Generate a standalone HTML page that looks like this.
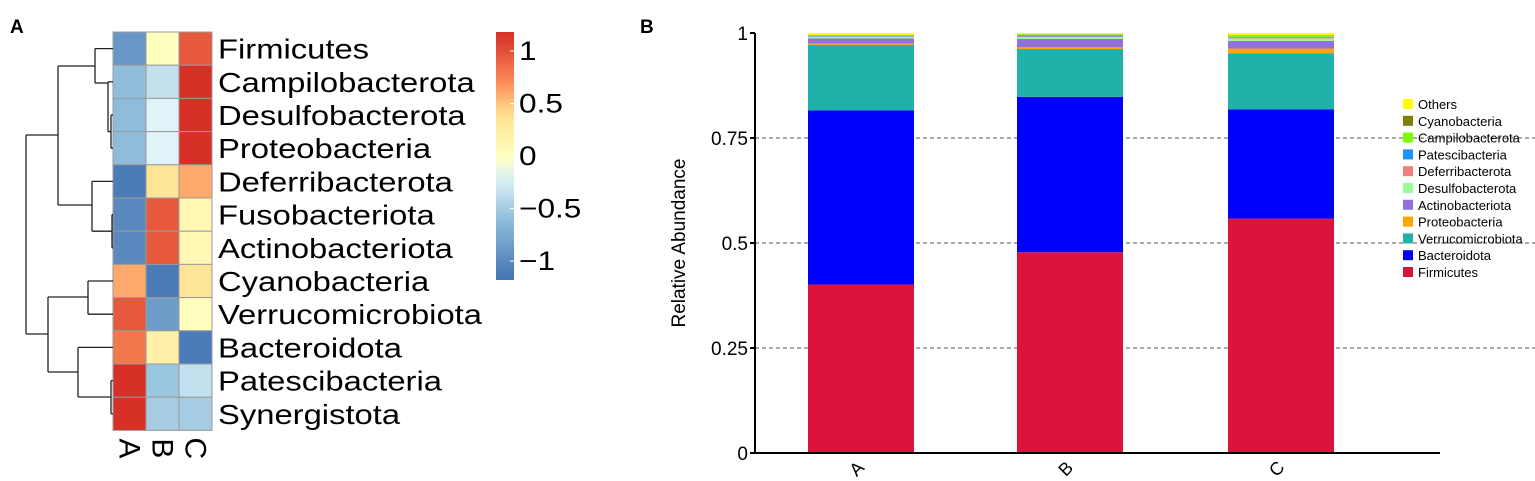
<!DOCTYPE html>
<html><head><meta charset="utf-8"><style>
html,body{margin:0;padding:0;background:#fff;}
svg{display:block;font-family:"Liberation Sans",Arial,sans-serif;}
</style></head><body>
<svg id="fig" width="1535" height="481" viewBox="0 0 1535 481">
<text x="10" y="33" font-size="19" font-weight="bold">A</text>
<text x="640" y="33" font-size="19" font-weight="bold">B</text>
<g id="heat"></g>
<g id="dendro" stroke="#222" stroke-width="1.3" fill="none"></g>
<g id="cbar"></g>
<g id="bars"></g>
<g id="legend"></g>
</svg>
<script>
const heatRows = ["Firmicutes","Campilobacterota","Desulfobacterota","Proteobacteria","Deferribacterota","Fusobacteriota","Actinobacteriota","Cyanobacteria","Verrucomicrobiota","Bacteroidota","Patescibacteria","Synergistota"];
const heatCols = ["A","B","C"];
const heatA = [-0.9,-0.6,-0.62,-0.62,-1.1,-1.0,-1.0,0.6,0.95,0.8,1.15,1.15];
const heatB = [0.0,-0.35,-0.2,-0.2,0.35,0.95,0.95,-1.1,-0.85,0.2,-0.55,-0.5];
const heatC = [0.95,1.15,1.15,1.15,0.6,0.1,0.1,0.35,0.02,-1.1,-0.35,-0.5];
const cbarTicks = [1,0.5,0,-0.5,-1];
const cbarTickLabels = ["1","0.5","0","\u22120.5","\u22121"];

const barCats = ["A","B","C"];
const seriesNames = ["Firmicutes","Bacteroidota","Verrucomicrobiota","Proteobacteria","Actinobacteriota","Desulfobacterota","Deferribacterota","Patescibacteria","Campilobacterota","Cyanobacteria","Others"];
const sFirmicutes = [0.401,0.478,0.558];
const sBacteroidota = [0.415,0.370,0.260];
const sVerrucomicrobiota = [0.156,0.114,0.134];
const sProteobacteria = [0.003,0.004,0.011];
const sActinobacteriota = [0.012,0.020,0.018];
const sDesulfobacterota = [0.004,0.004,0.006];
const sDeferribacterota = [0.001,0.002,0.003];
const sPatescibacteria = [0.001,0.002,0.001];
const sCampilobacterota = [0.001,0.002,0.002];
const sCyanobacteria = [0.001,0.001,0.001];
const sOthers = [0.005,0.003,0.006];
const yTicks = [0,0.25,0.5,0.75,1];
const yTickLabels = ["0","0.25","0.5","0.75","1"];
const seriesColors = ["#dc143c","#0000ff","#20b2aa","#ffa500","#9370db","#98fb98","#f08080","#1e90ff","#7cfc00","#808000","#ffff00"];

const NS="http://www.w3.org/2000/svg";
function mk(tag,attrs,parent,text){const e=document.createElementNS(NS,tag);for(const k in attrs)e.setAttribute(k,attrs[k]);if(text!==undefined)e.textContent=text;parent.appendChild(e);return e;}

const stops=[[-1.15,[69,117,180]],[-0.6,[145,191,219]],[-0.2,[224,243,248]],[0,[255,255,191]],[0.4,[254,224,144]],[0.7,[252,141,89]],[1.15,[215,48,39]]];
function col(v){v=Math.max(-1.15,Math.min(1.15,v));for(let i=0;i<stops.length-1;i++){const a=stops[i],b=stops[i+1];if(v<=b[0]){const t=(v-a[0])/(b[0]-a[0]);const c=a[1].map((x,j)=>Math.round(x+(b[1][j]-x)*t));return `rgb(${c})`;}}return "rgb(215,48,39)";}

const hx0=113,cw=33,hy0=32,rh=33.2;
const heat=document.getElementById('heat');
const heatData=[heatA,heatB,heatC];
heatRows.forEach((r,i)=>{
  heatData.forEach((arr,j)=>{
    const c=mk('rect',{x:hx0+j*cw,y:hy0+i*rh,width:cw,height:rh,fill:col(arr[i]),stroke:"#9a9a9a","stroke-width":1},heat);
    
    
  });
  const ty=hy0+i*rh+rh/2+10;
  const t=mk('text',{x:0,y:0,"font-size":28,fill:"#000",transform:`translate(218 ${ty}) scale(1.17 1)`},heat,r);
  
  
});
heatCols.forEach((c,j)=>{
  const cx=hx0+j*cw+cw/2, cy=hy0+12*rh+18;
  const t=mk('text',{x:cx,y:cy,"font-size":30,"text-anchor":"middle",transform:`rotate(90 ${cx} ${cy}) translate(0 10)`},heat,c);
  
  
});

const dendro=document.getElementById('dendro');
const yc=i=>hy0+rh*(i+0.5);
const segs=[
 [95,yc(0),113,yc(0)],[111,yc(2),113,yc(2)],[111,yc(3),113,yc(3)],[111,yc(2),111,yc(3)],
 [108,(yc(2)+yc(3))/2,111,(yc(2)+yc(3))/2],[108,yc(1),113,yc(1)],[108,yc(1),108,(yc(2)+yc(3))/2],
 [95,83,108,83],[95,yc(0),95,83],[58,66,95,66],
 [112,yc(5),113,yc(5)],[112,yc(6),113,yc(6)],[112,yc(5),112,yc(6)],[92,yc(4),113,yc(4)],
 [92,(yc(5)+yc(6))/2,112,(yc(5)+yc(6))/2],[92,yc(4),92,(yc(5)+yc(6))/2],[58,205,92,205],[58,66,58,205],
 [26,135,58,135],
 [88,yc(7),113,yc(7)],[88,yc(8),113,yc(8)],[88,yc(7),88,yc(8)],[48,297,88,297],
 [111,yc(10),113,yc(10)],[111,yc(11),113,yc(11)],[111,yc(10),111,yc(11)],[78,397,111,397],
 [78,yc(9),113,yc(9)],[78,yc(9),78,397],[48,372,78,372],[48,297,48,372],[26,334,48,334],[26,135,26,334]
];
segs.forEach(s=>mk('line',{x1:s[0],y1:s[1],x2:s[2],y2:s[3]},dendro));

const cbar=document.getElementById('cbar');
const cb={x:496,y:32,w:18,h:248,vmin:-1.18,vmax:1.18};
const grad=mk('linearGradient',{id:'cg',x1:0,y1:1,x2:0,y2:0},mk('defs',{},cbar));
for(let k=0;k<=20;k++){const v=cb.vmin+(cb.vmax-cb.vmin)*k/20;mk('stop',{offset:k/20,"stop-color":col(v)},grad);}
mk('rect',{x:cb.x,y:cb.y,width:cb.w,height:cb.h,fill:"url(#cg)"},cbar);
const cby=v=>cb.y+cb.h*(cb.vmax-v)/(cb.vmax-cb.vmin);
cbarTicks.forEach((v,i)=>{
  mk('line',{x1:cb.x+cb.w-4,x2:cb.x+cb.w,y1:cby(v),y2:cby(v),stroke:"#fff"},cbar);
  const t=mk('text',{x:0,y:0,"font-size":27,transform:`translate(${cb.x+cb.w+5} ${cby(v)+9}) scale(1.17 1)`},cbar,cbarTickLabels[i]);
  
  
});

const bars=document.getElementById('bars');
const ax={x:755,y0:453,y1:33};
const yS=v=>ax.y0-(ax.y0-ax.y1)*v;
const barX=[808,1017,1228], bw=106;
yTicks.forEach((v,i)=>{
  if(v>0&&v<1) mk('line',{x1:ax.x,x2:1535,y1:yS(v),y2:yS(v),stroke:"#555","stroke-dasharray":"4,3","stroke-width":1},bars);
});
const seriesArr=[sFirmicutes,sBacteroidota,sVerrucomicrobiota,sProteobacteria,sActinobacteriota,sDesulfobacterota,sDeferribacterota,sPatescibacteria,sCampilobacterota,sCyanobacteria,sOthers];
barCats.forEach((c,j)=>{
  let cum=0;
  seriesArr.forEach((arr,k)=>{
    const v=arr[j];
    const r=mk('rect',{x:barX[j],y:yS(cum+v),width:bw,height:yS(cum)-yS(cum+v),fill:seriesColors[k]},bars);
    
    
    cum+=v;
  });
  const lx=barX[j]+bw/2, ly=473;
  const t=mk('text',{x:lx,y:ly,"font-size":18,"text-anchor":"middle",transform:`rotate(-45 ${lx} ${ly})`},bars,c);
  
  
});
mk('line',{x1:ax.x,x2:ax.x,y1:ax.y1,y2:ax.y0+1,stroke:"#000","stroke-width":2},bars);
mk('line',{x1:ax.x-1,x2:1440,y1:ax.y0,y2:ax.y0,stroke:"#000","stroke-width":2},bars);
yTicks.forEach((v,i)=>{
  mk('line',{x1:ax.x-5,x2:ax.x,y1:yS(v),y2:yS(v),stroke:"#000","stroke-width":2},bars);
  const t=mk('text',{x:ax.x-7,y:yS(v)+7,"font-size":19,"text-anchor":"end"},bars,yTickLabels[i]);
  
  
});
const yt=mk('text',{x:683,y:243,"font-size":19,"text-anchor":"middle",transform:"rotate(-90 683 243) translate(0 2)"},bars,"Relative Abundance");



const legend=document.getElementById('legend');
const legOrder=[10,9,8,7,6,5,4,3,2,1,0];
legOrder.forEach((k,i)=>{
  const y=104+i*16.8;
  const g=mk('g',{},legend);
  
  
  mk('rect',{x:1403,y:y-5,width:10,height:10,fill:seriesColors[k]},g);
  mk('text',{x:1418,y:y+5,"font-size":13},g,seriesNames[k]);
});
</script>
</body></html>
